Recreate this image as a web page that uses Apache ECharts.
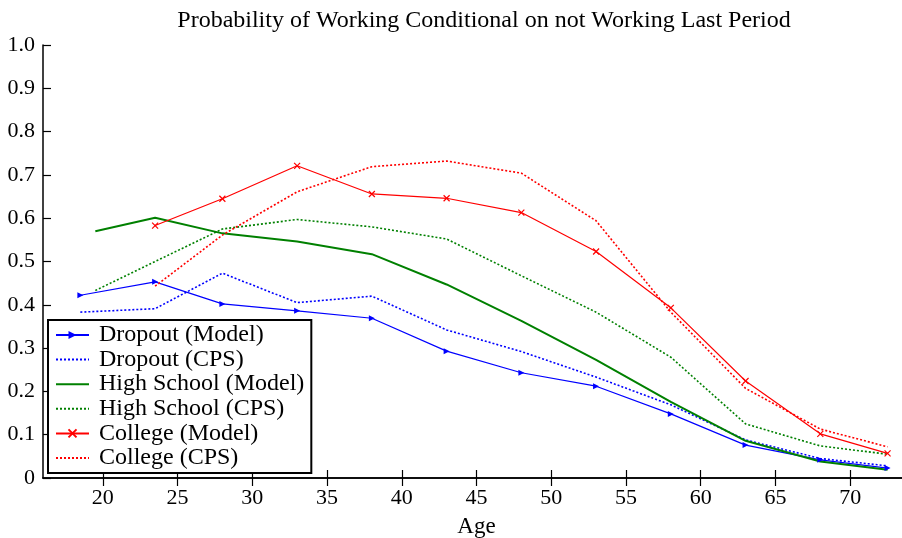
<!DOCTYPE html>
<html>
<head>
<meta charset="utf-8">
<script src="https://cdn.jsdelivr.net/npm/echarts@6/dist/echarts.min.js"></script>
<style>
html,body{margin:0;padding:0;background:#fff;}
#chart{width:902px;height:538px;}
</style>
</head>
<body>
<div id="chart"></div>
<script>
const dropoutAges = [18.5, 23.5, 28, 33, 38, 43, 48, 53, 58, 63, 68, 72.5];
const hsAges = [19.5, 23.5, 28, 33, 38, 43, 48, 53, 58, 63, 68, 72.5];
const collegeAges = [23.5, 28, 33, 38, 43, 48, 53, 58, 63, 68, 72.5];

const dropoutModel = [0.422, 0.453, 0.402, 0.386, 0.369, 0.293, 0.243, 0.212, 0.148, 0.076, 0.042, 0.023];
const dropoutCPS   = [0.383, 0.391, 0.473, 0.405, 0.420, 0.342, 0.292, 0.233, 0.169, 0.088, 0.045, 0.028];
const hsModel      = [0.570, 0.601, 0.565, 0.546, 0.517, 0.447, 0.363, 0.273, 0.176, 0.086, 0.038, 0.019];
const hsCPS        = [0.433, 0.500, 0.575, 0.597, 0.580, 0.552, 0.467, 0.383, 0.279, 0.125, 0.074, 0.055];
const collegeModel = [0.583, 0.645, 0.721, 0.656, 0.646, 0.613, 0.523, 0.393, 0.224, 0.102, 0.057];
const collegeCPS   = [0.443, 0.561, 0.661, 0.719, 0.732, 0.704, 0.594, 0.383, 0.207, 0.113, 0.072];

const xTicks = [20, 25, 30, 35, 40, 45, 50, 55, 60, 65, 70];
const seriesNames = ['Dropout (Model)', 'Dropout (CPS)', 'High School (Model)', 'High School (CPS)', 'College (Model)', 'College (CPS)'];
const hasMarker = [true, false, false, false, true, false];

const FONT = 'Liberation Serif';
const pairs = (xs, ys) => ys.map((y, i) => [xs[i], y]);

const chart = echarts.init(document.getElementById('chart'), null, {renderer: 'canvas'});

const axisLine = {show: true, lineStyle: {color: '#000', width: 1.5}};
const tickIn = {show: true, inside: true, length: 8, lineStyle: {color: '#000', width: 1.2}};

const option = {
  backgroundColor: '#fff',
  animation: false,
  title: {
    text: 'Probability of Working Conditional on not Working Last Period',
    left: 479, top: 4, textAlign: 'center',
    textStyle: {fontFamily: FONT, fontSize: 24, fontWeight: 'normal', color: '#000'}
  },
  grid: {left: 43, top: 45, width: 867, height: 433, containLabel: false, outerBoundsMode: 'none'},
  legend: {
    orient: 'vertical', left: 48, top: 320,
    data: seriesNames.map((n, i) => hasMarker[i] ? {name: n} : {name: n, itemStyle: {opacity: 0}}),
    backgroundColor: '#fff', borderColor: '#000', borderWidth: 2,
    padding: [3, 7, 3, 7],
    itemWidth: 33, itemHeight: 10, itemGap: 0.6,
    textStyle: {fontFamily: FONT, fontSize: 24, color: '#000', lineHeight: 24, padding: [0, 0, 0, 5]},
    selectedMode: false
  },
  xAxis: [{
    type: 'value', min: 16, max: 74, position: 'bottom',
    name: 'Age', nameLocation: 'middle', nameGap: 37,
    nameTextStyle: {fontFamily: FONT, fontSize: 23, color: '#000'},
    axisLine: axisLine,
    axisTick: Object.assign({customValues: xTicks}, tickIn),
    axisLabel: {customValues: xTicks, fontFamily: FONT, fontSize: 22, color: '#000', margin: 9},
    splitLine: {show: false}
  }, {
    type: 'value', min: 16, max: 74, position: 'top',
    axisLine: axisLine,
    axisTick: Object.assign({customValues: xTicks}, tickIn),
    axisLabel: {show: false},
    splitLine: {show: false}
  }],
  yAxis: [{
    type: 'value', min: 0, max: 1, interval: 0.1, position: 'left',
    axisLine: axisLine, axisTick: tickIn,
    axisLabel: {fontFamily: FONT, fontSize: 22, color: '#000', margin: 8,
      formatter: v => v === 0 ? '0' : v.toFixed(1)},
    splitLine: {show: false}
  }, {
    type: 'value', min: 0, max: 1, interval: 0.1, position: 'right',
    axisLine: axisLine, axisTick: tickIn,
    axisLabel: {show: false},
    splitLine: {show: false}
  }],
  series: [
    {
      name: seriesNames[0], type: 'line', data: pairs(dropoutAges, dropoutModel),
      color: '#0000ff',
      symbol: 'triangle', symbolRotate: -90, symbolSize: 6, showSymbol: true,
      lineStyle: {color: '#0000ff', width: 1.2},
      itemStyle: {color: '#0000ff'}
    },
    {
      name: seriesNames[1], type: 'line', data: pairs(dropoutAges, dropoutCPS),
      color: '#0000ff', symbol: 'none',
      lineStyle: {color: '#0000ff', width: 1.6, type: [2, 2]}
    },
    {
      name: seriesNames[2], type: 'line', data: pairs(hsAges, hsModel),
      color: '#008000', symbol: 'none',
      lineStyle: {color: '#008000', width: 2}
    },
    {
      name: seriesNames[3], type: 'line', data: pairs(hsAges, hsCPS),
      color: '#008000', symbol: 'none',
      lineStyle: {color: '#008000', width: 1.6, type: [2, 2]}
    },
    {
      name: seriesNames[4], type: 'line', data: pairs(collegeAges, collegeModel),
      color: '#ff0000',
      symbol: 'path://M0,0L10,10M10,0L0,10', symbolSize: 6, showSymbol: true,
      lineStyle: {color: '#ff0000', width: 1.2},
      itemStyle: {color: '#ff0000', borderColor: '#ff0000', borderWidth: 1.2}
    },
    {
      name: seriesNames[5], type: 'line', data: pairs(collegeAges, collegeCPS),
      color: '#ff0000', symbol: 'none',
      lineStyle: {color: '#ff0000', width: 1.6, type: [2, 2]}
    }
  ]
};
chart.setOption(option);
</script>
</body>
</html>
